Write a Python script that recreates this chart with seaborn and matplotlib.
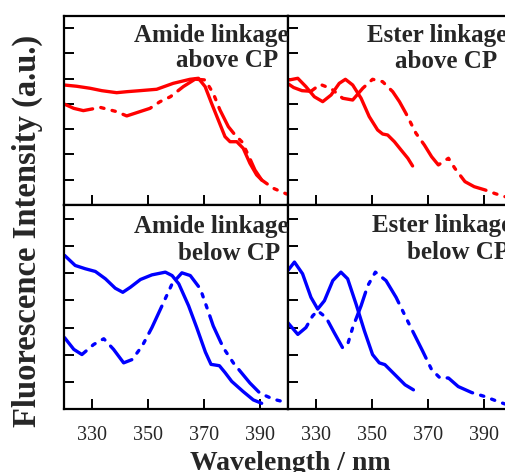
import numpy as np
import pandas as pd
import matplotlib
matplotlib.use("Agg")
import matplotlib.pyplot as plt
import seaborn as sns

# ---------------- data (normalized fluorescence intensity) ----------------
# Amide linkage above CP
amide_above_solid_wl = [320, 324.5, 329.3, 333.5, 338.8, 342.5, 347.1, 353.1, 359, 365, 368, 370.4, 372.7, 375.1, 377.5, 379.3, 381.7, 384, 386.4, 388.8, 390.6]
amide_above_solid_i = [0.950, 0.940, 0.924, 0.905, 0.889, 0.897, 0.905, 0.916, 0.963, 0.995, 1.003, 0.937, 0.805, 0.673, 0.541, 0.501, 0.501, 0.449, 0.330, 0.238, 0.198]
amide_above_dash_wl = [320, 323.5, 326.9, 330, 332.9, 338.8, 342.4, 347.1, 350.7, 354.3, 358, 362.6, 366.8, 370.4, 373.3, 375.7, 378.7, 381.1, 383.5, 385.8, 388.2, 390.6, 394.8, 399.5]
amide_above_dash_i = [0.800, 0.765, 0.747, 0.760, 0.773, 0.739, 0.705, 0.739, 0.765, 0.818, 0.857, 0.937, 0.996, 0.990, 0.884, 0.752, 0.620, 0.554, 0.501, 0.396, 0.277, 0.198, 0.132, 0.087]

# Ester linkage above CP
ester_above_solid_wl = [320.5, 323.5, 326.4, 329.4, 332.4, 335.4, 338.3, 340.5, 343.1, 346.1, 349, 352, 353.8, 355.6, 358, 360.4, 362.8, 364.5]
ester_above_solid_i = [0.990, 1.003, 0.937, 0.857, 0.818, 0.871, 0.963, 0.995, 0.950, 0.845, 0.700, 0.594, 0.562, 0.554, 0.501, 0.435, 0.370, 0.309]
ester_above_dash_wl = [320, 322, 325, 328.2, 331.5, 335.5, 339.5, 343.1, 346.7, 350.2, 353.8, 357.4, 359.8, 362.1, 365.7, 368.7, 371.3, 373.7, 377.3, 379.6, 383.2, 386.5, 390.4, 394, 397.5]
ester_above_dash_i = [0.960, 0.930, 0.905, 0.900, 0.955, 0.920, 0.845, 0.831, 0.924, 0.995, 0.976, 0.897, 0.818, 0.726, 0.568, 0.475, 0.382, 0.317, 0.370, 0.290, 0.185, 0.145, 0.119, 0.090, 0.066]

# Amide linkage below CP
amide_below_solid_wl = [320.2, 324, 327.6, 331.2, 334.8, 338.3, 341, 343.7, 347.3, 351.4, 356.2, 358.6, 361, 364.5, 367.4, 370.5, 372.5, 375.5, 377.5, 379.9, 384, 387.6, 390.6]
amide_below_solid_i = [1.130, 1.056, 1.032, 1.012, 0.958, 0.889, 0.859, 0.896, 0.953, 0.987, 1.007, 0.982, 0.921, 0.760, 0.600, 0.420, 0.330, 0.320, 0.270, 0.205, 0.130, 0.069, 0.044]
amide_below_dash_wl = [320.2, 323.5, 326.4, 330.6, 334.2, 337.7, 341.3, 344.3, 347.9, 351.4, 355, 358.6, 362.1, 365.1, 368.7, 371.5, 373.3, 376.9, 380.5, 386.4, 390, 394.8, 398.3]
amide_below_dash_i = [0.526, 0.440, 0.402, 0.476, 0.518, 0.440, 0.341, 0.365, 0.464, 0.600, 0.760, 0.921, 1.002, 0.982, 0.884, 0.720, 0.612, 0.452, 0.340, 0.193, 0.118, 0.074, 0.056]

# Ester linkage below CP
ester_below_solid_wl = [320, 322.3, 325.2, 328.2, 330.6, 333, 336, 338.9, 341.3, 344.3, 347.3, 350.2, 352.6, 354.6, 358.2, 361.8, 364.8]
ester_below_solid_i = [1.020, 1.081, 0.995, 0.822, 0.736, 0.797, 0.945, 1.007, 0.958, 0.773, 0.575, 0.402, 0.341, 0.328, 0.254, 0.180, 0.143]
ester_below_dash_wl = [319.9, 323.5, 326.4, 328.8, 330.6, 333.6, 336.5, 339.5, 341.3, 343.1, 346.1, 348.5, 351.2, 355, 358.6, 363.3, 368.1, 371.3, 374.3, 377.3, 380.8, 385.6, 390.4, 395.1, 397.5]
ester_below_dash_i = [0.637, 0.550, 0.600, 0.686, 0.723, 0.674, 0.563, 0.452, 0.476, 0.600, 0.760, 0.908, 1.007, 0.945, 0.822, 0.624, 0.427, 0.291, 0.230, 0.230, 0.167, 0.123, 0.093, 0.056, 0.039]

xticks = [330, 350, 370, 390]
yticks = [0.2, 0.4, 0.6, 0.8, 1.0, 1.2, 1.4]

panels = [
    ("red", amide_above_solid_wl, amide_above_solid_i, amide_above_dash_wl, amide_above_dash_i),
    ("red", ester_above_solid_wl, ester_above_solid_i, ester_above_dash_wl, ester_above_dash_i),
    ("blue", amide_below_solid_wl, amide_below_solid_i, amide_below_dash_wl, amide_below_dash_i),
    ("blue", ester_below_solid_wl, ester_below_solid_i, ester_below_dash_wl, ester_below_dash_i),
]

# ---------------- style ----------------
sns.set_style("white")
plt.rcParams["font.family"] = ["Liberation Serif", "DejaVu Serif"]

W, H = 506, 472
fig = plt.figure(figsize=(W / 100, H / 100), dpi=100)

def px_rect(x0, y0, x1, y1):
    return [x0 / W, 1 - y1 / H, (x1 - x0) / W, (y1 - y0) / H]

rects = [
    px_rect(64, 15.5, 288, 205),
    px_rect(288, 15.5, 512, 205),
    px_rect(64, 205, 288, 409.3),
    px_rect(288, 205, 512, 409.3),
]

dashdotdot = (0, (9, 2.5, 1, 2.5, 1, 2.5))
lw = 2.4

for k, (rect, p) in enumerate(zip(rects, panels)):
    ax = fig.add_axes(rect)
    col, sw, si, dw, di = p
    d_solid = pd.DataFrame({"wl": sw, "I": si})
    d_dash = pd.DataFrame({"wl": dw, "I": di})
    sns.lineplot(data=d_solid, x="wl", y="I", ax=ax, color=col, lw=lw,
                 errorbar=None, solid_capstyle="round", solid_joinstyle="round")
    sns.lineplot(data=d_dash, x="wl", y="I", ax=ax, color=col, lw=lw,
                 errorbar=None, linestyle=dashdotdot, dash_capstyle="round",
                 dash_joinstyle="round")
    ax.set_xlim(320, 400)
    ax.set_ylim(0, 1.5)
    ax.set_xticks(xticks)
    ax.set_yticks(yticks)
    ax.set_xlabel("")
    ax.set_ylabel("")
    ax.set_yticklabels([])
    for s in ax.spines.values():
        s.set_linewidth(1.6)
        s.set_color("black")
    ax.tick_params(axis="both", direction="in", length=7.5, width=1.4,
                   color="black", top=False, right=False, bottom=True, left=True)
    if k < 2:
        ax.set_xticklabels([])
    else:
        ax.set_xticklabels([str(v) for v in xticks], fontsize=14.5)
        ax.tick_params(axis="x", pad=12)

def ftext(x, y, s, **kw):
    fig.text(x / W, 1 - y / H, s, fontsize=18, fontweight="bold",
             va="baseline", **kw)

# panel annotations
ftext(289, 41.7, "Amide linkage", ha="right")
ftext(278.5, 66.7, "above CP", ha="right")
ftext(367, 41.7, "Ester linkage", ha="left")
ftext(395, 68, "above CP", ha="left")
ftext(289, 233.3, "Amide linkage", ha="right")
ftext(280, 260, "below CP", ha="right")
ftext(372, 232.3, "Ester linkage", ha="left")
ftext(406.7, 259, "below CP", ha="left")

fig.text(290 / W, 1 - 470 / H, "Wavelength / nm", fontsize=20,
         fontweight="bold", ha="center", va="baseline")
fig.text(27 / W, 1 - 231 / H, "Fluorescence Intensity (a.u.)", fontsize=23.5,
         fontweight="bold", ha="center", va="center", rotation=90)

fig.savefig("out.png", dpi=100)
